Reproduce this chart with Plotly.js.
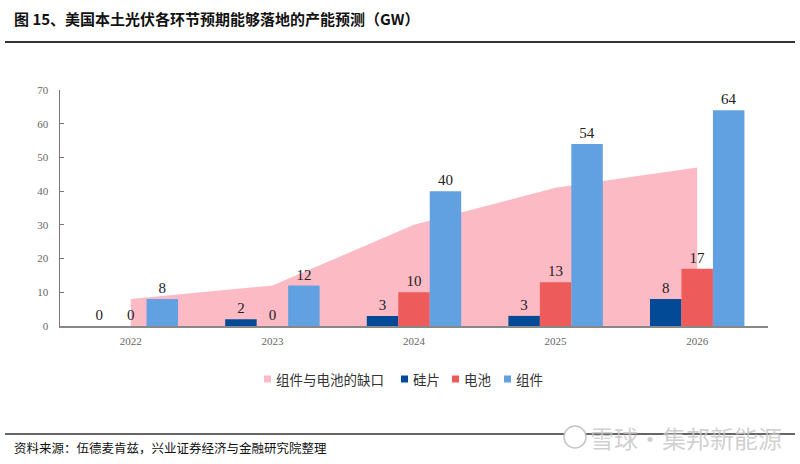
<!DOCTYPE html>
<html>
<head>
<meta charset="utf-8">
<script src="https://cdn.plot.ly/plotly-3.0.1.min.js"></script>
<style>html,body{margin:0;padding:0;background:#fff;}#chart{width:800px;height:464px;}</style>
</head>
<body>
<div id="chart"></div>
<script>
const years = ['2022', '2023', '2024', '2025', '2026'];
const gap = [8, 12, 30, 41, 47];        // 组件与电池的缺口
const wafer = [0, 2, 3, 3, 8];          // 硅片
const cell = [0, 0, 10, 13, 17];        // 电池
const module_ = [8, 12, 40, 54, 64];    // 组件
const yTicks = [0, 10, 20, 30, 40, 50, 60, 70];
const seriesNames = ['组件与电池的缺口', '硅片', '电池', '组件'];
const seriesColors = ['#FCBAC5', '#034A96', '#EE5B5B', '#62A1E1'];

const labelFont = {family: 'Liberation Serif, DejaVu Serif, serif', size: 15, color: '#222'};
const cjk = 'Noto Sans CJK SC, sans-serif';

function barTrace(i, vals) {
  return {
    type: 'bar', name: seriesNames[i], x: years, y: vals, yaxis: 'y2',
    marker: {color: seriesColors[i]},
    text: vals.map(String), textposition: 'outside', cliponaxis: false,
    textfont: labelFont, hoverinfo: 'skip', showlegend: false
  };
}

const data = [
  {type: 'scatter', name: seriesNames[0], x: years, y: gap, mode: 'none',
   fill: 'tozeroy', fillcolor: seriesColors[0], line: {shape: 'linear'}, hoverinfo: 'skip', showlegend: false},
  barTrace(1, wafer),
  barTrace(2, cell),
  barTrace(3, module_)
];

const tickFont = {family: 'Liberation Serif, DejaVu Serif, serif', size: 11, color: '#666'};

const px = v => (v - 60) / 708;
const py = v => (326 - v) / 236;

// custom compact legend (square + label), placed like the reference
const legendX = [264, 401, 452, 504];
const legendY = 379;
const legendShapes = seriesNames.map((n, i) => ({
  type: 'rect', xref: 'paper', yref: 'paper',
  x0: px(legendX[i]), x1: px(legendX[i] + 7), y0: py(legendY + 3.5), y1: py(legendY - 3.5),
  fillcolor: seriesColors[i], line: {width: 0}
}));
const legendAnns = seriesNames.map((n, i) => ({
  xref: 'paper', yref: 'paper', x: px(legendX[i] + 10), y: py(legendY), xanchor: 'left', yanchor: 'middle',
  text: n, showarrow: false, font: {family: cjk, size: 13.5, color: '#333'}
}));

const layout = {
  width: 800, height: 464,
  margin: {l: 60, r: 32, t: 90, b: 138},
  paper_bgcolor: '#fff', plot_bgcolor: 'rgba(0,0,0,0)',
  barmode: 'group', bargap: 0.333, bargroupgap: 0,
  showlegend: false,
  xaxis: {type: 'category', showgrid: false, zeroline: false, showline: true,
          linecolor: '#888', linewidth: 1.5, ticks: '', tickfont: tickFont, ticklabelstandoff: 4},
  yaxis: {range: [0, 70], tickvals: yTicks, showgrid: false, zeroline: false, showline: true,
          linecolor: '#777', linewidth: 1.5, ticks: 'inside', ticklen: 4, tickcolor: '#777',
          tickfont: tickFont, ticklabelstandoff: 8},
  yaxis2: {range: [0, 70], overlaying: 'y', visible: false, showgrid: false, zeroline: false},
  annotations: [
    {xref: 'paper', yref: 'paper', x: px(12), y: py(19), xanchor: 'left', yanchor: 'middle',
     text: '<b>图 15、美国本土光伏各环节预期能够落地的产能预测（GW）</b>', showarrow: false,
     font: {family: cjk, size: 15, color: '#111'}},
    {xref: 'paper', yref: 'paper', x: px(12), y: py(447), xanchor: 'left', yanchor: 'middle',
     text: '资料来源：伍德麦肯兹，兴业证券经济与金融研究院整理', showarrow: false,
     font: {family: cjk, size: 12.5, color: '#111'}},
    {xref: 'paper', yref: 'paper', x: px(588), y: py(437), xanchor: 'left', yanchor: 'middle',
     text: '雪球·集邦新能源', showarrow: false,
     font: {family: cjk, size: 24, color: 'rgba(200,200,200,0.85)'}}
  ].concat(legendAnns),
  shapes: [
    {type: 'line', xref: 'paper', yref: 'paper', x0: px(5), x1: px(795),
     y0: py(42), y1: py(42), line: {color: '#333', width: 2}, layer: 'below'},
    {type: 'line', xref: 'paper', yref: 'paper', x0: px(5), x1: px(795),
     y0: py(434), y1: py(434), line: {color: '#333', width: 1.5}, layer: 'below'},
    {type: 'circle', xref: 'paper', yref: 'paper', x0: px(564), x1: px(586),
     y0: py(448), y1: py(426), fillcolor: '#fff', line: {color: 'rgba(190,190,190,0.9)', width: 1.5}}
  ].concat(legendShapes)
};

Plotly.newPlot('chart', data, layout, {displayModeBar: false, staticPlot: true});
</script>
</body>
</html>
